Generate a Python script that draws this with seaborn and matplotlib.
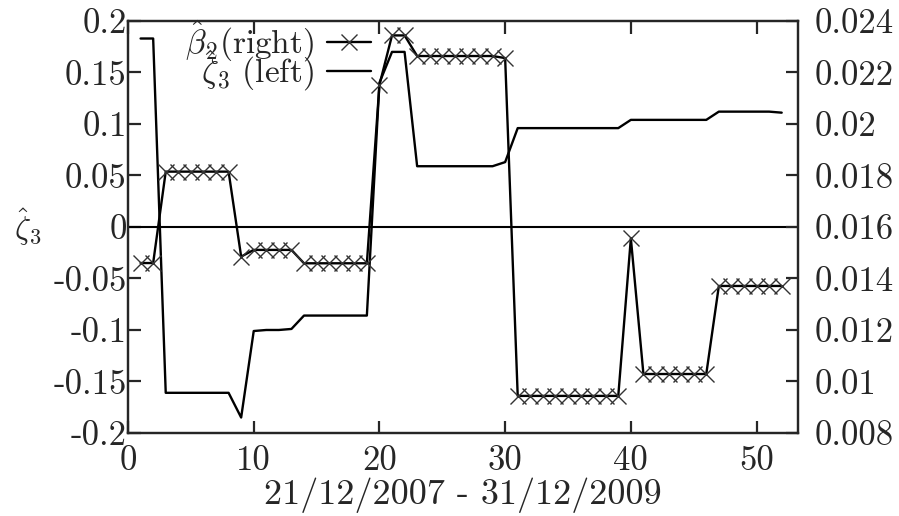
import numpy as np
import pandas as pd
import seaborn as sns
import matplotlib
matplotlib.use("Agg")
import matplotlib.pyplot as plt

# Datos (periodos 1..52)
periods = list(range(1, 53))

# zeta_3 (eje izquierdo)
zeta3 = ([0.183, 0.183] + [-0.161] * 6 + [-0.185, -0.101, -0.100, -0.100, -0.099]
         + [-0.086] * 6 + [0.140, 0.170, 0.170] + [0.059] * 7 + [0.063]
         + [0.096] * 9 + [0.104] * 7 + [0.112] * 5 + [0.111])

# beta_2 (eje derecho)
beta2 = ([0.0146, 0.0146] + [0.01815] * 6 + [0.01485] + [0.01511] * 4
         + [0.01459] * 6 + [0.02152, 0.02344, 0.02344] + [0.02264] * 7 + [0.02256]
         + [0.00944] * 9 + [0.01556] + [0.01029] * 6 + [0.01371] * 6)

left_ticks = [-0.2, -0.15, -0.1, -0.05, 0, 0.05, 0.1, 0.15, 0.2]
left_labels = ["-0.2", "-0.15", "-0.1", "-0.05", "0", "0.05", "0.1", "0.15", "0.2"]
right_ticks = [0.008, 0.01, 0.012, 0.014, 0.016, 0.018, 0.02, 0.022, 0.024]
right_labels = ["0.008", "0.01", "0.012", "0.014", "0.016", "0.018", "0.02", "0.022", "0.024"]
x_ticks = [0, 10, 20, 30, 40, 50]
x_labels = ["0", "10", "20", "30", "40", "50"]

df = pd.DataFrame({"t": periods, "zeta3": zeta3, "beta2": beta2})

sns.set_style("ticks")
plt.rcParams["font.family"] = ["cmr10", "DejaVu Serif"]
plt.rcParams["mathtext.fontset"] = "cm"
plt.rcParams["axes.linewidth"] = 1.6
plt.rcParams["axes.formatter.use_mathtext"] = True

fig, ax = plt.subplots(figsize=(8.99, 5.16), dpi=100)
fig.subplots_adjust(left=0.1424, right=0.8877, top=0.9593, bottom=0.1609)
ax2 = ax.twinx()

# linea horizontal en cero
ax.axhline(0, color="black", lw=1.5, zorder=1)

sns.lineplot(data=df, x="t", y="zeta3", ax=ax, color="black", lw=1.7,
             label=r"$\hat{\zeta}_3$ (left)", legend=False)
sns.lineplot(data=df, x="t", y="beta2", ax=ax2, color="black", lw=1.7,
             marker="x", markersize=11, markeredgewidth=1.0,
             markeredgecolor="#333333", label=r"$\hat{\beta}_2$(right)", legend=False)

ax.set_xlim(0, 53.3)
ax.set_ylim(-0.2, 0.2)
ax2.set_ylim(0.008, 0.024)

ax.set_xticks(x_ticks)
ax.set_xticklabels(x_labels)
ax.set_yticks(left_ticks)
ax.set_yticklabels(left_labels)
ax2.set_yticks(right_ticks)
ax2.set_yticklabels(right_labels)

fs = 26
ax.tick_params(axis="both", direction="in", length=9, width=1.6, labelsize=fs - 1, pad=1)
ax.tick_params(axis="x", top=True, pad=9)
ax2.tick_params(axis="y", direction="in", length=9, width=1.6, labelsize=fs - 1, pad=12)

ax.set_xlabel("21/12/2007 - 31/12/2009", fontsize=fs, labelpad=0)
ax.set_ylabel(r"$\hat{\zeta}_3$", fontsize=fs - 3, rotation=0, labelpad=18, va="center")
ax2.set_ylabel(r"$\hat{\beta}_2$", fontsize=fs - 3, rotation=0, labelpad=100, va="center")

# leyenda estilo gnuplot: texto alineado a la derecha, una entrada por fila
h1, l1 = ax.get_legend_handles_labels()
h2, l2 = ax2.get_legend_handles_labels()
leg1 = ax2.legend(h2, l2, loc="upper right", bbox_to_anchor=(0.372, 1.021),
                  frameon=False, markerfirst=False, fontsize=fs - 2, handlelength=1.3,
                  handletextpad=0.4, borderaxespad=0.0, borderpad=0.2)
ax2.add_artist(leg1)
ax2.legend(h1, l1, loc="upper right", bbox_to_anchor=(0.372, 0.949),
           frameon=False, markerfirst=False, fontsize=fs - 2, handlelength=1.3,
           handletextpad=0.4, borderaxespad=0.0, borderpad=0.2)

plt.savefig("out.png", dpi=100)
